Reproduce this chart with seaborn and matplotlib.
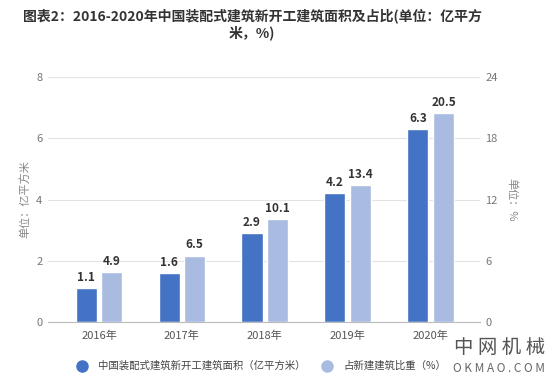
import pandas as pd
import numpy as np
import matplotlib
matplotlib.use("Agg")
import matplotlib.pyplot as plt
from matplotlib.lines import Line2D
import seaborn as sns

# data
years = ["2016年", "2017年", "2018年", "2019年", "2020年"]
area = [1.1, 1.6, 2.9, 4.2, 6.3]        # 亿平方米
share = [4.9, 6.5, 10.1, 13.4, 20.5]    # %
s_area = "中国装配式建筑新开工建筑面积（亿平方米）"
s_share = "占新建建筑比重（%）"

dark = "#4472C4"
light = "#A9BBE0"

sns.set_style("white")
plt.rcParams["font.family"] = ["Noto Sans CJK SC", "DejaVu Sans"]

df = pd.DataFrame({
    "year": years * 2,
    "series": [s_area] * 5 + [s_share] * 5,
    "area": area + [np.nan] * 5,
    "share": [np.nan] * 5 + share,
})

fig = plt.figure(figsize=(5.51, 3.84), dpi=100)
ax = fig.add_axes([48 / 551, 1 - 322 / 384, 432 / 551, 245 / 384])
ax2 = ax.twinx()

pal = {s_area: dark, s_share: light}
sns.barplot(data=df, x="year", y="area", hue="series", hue_order=[s_area, s_share],
            palette=pal, saturation=1, width=0.62, gap=0.18, ax=ax, legend=False, errorbar=None)
sns.barplot(data=df, x="year", y="share", hue="series", hue_order=[s_area, s_share],
            palette=pal, saturation=1, width=0.62, gap=0.18, ax=ax2, legend=False, errorbar=None)

ax.set_xlim(-0.615, 4.595)
ax.set_ylim(0, 8)
ax2.set_ylim(0, 24)
ax.set_yticks([0, 2, 4, 6, 8])
ax2.set_yticks([0, 6, 12, 18, 24])
ax.yaxis.grid(True, color="#E3E3E3", linewidth=0.8)
ax.set_axisbelow(True)

for a in (ax, ax2):
    for sp in a.spines.values():
        sp.set_visible(False)
    a.tick_params(axis="y", length=0, labelsize=8, labelcolor="#777777", pad=4)
ax.spines["bottom"].set_visible(True)
ax.spines["bottom"].set_color("#BBBBBB")
ax.tick_params(axis="x", length=3, color="#BBBBBB", labelsize=8, labelcolor="#555555")
ax.set_xlabel("")
ax.set_ylabel("单位：亿平方米", fontsize=8, color="#888888", labelpad=4)
ax2.set_ylabel("单位：%", fontsize=8, color="#888888", labelpad=6)
ax2.yaxis.label.set_rotation(270)
ax2.yaxis.label.set_va("bottom")

for c in ax.containers:
    ax.bar_label(c, fmt="%.1f", padding=3, fontsize=8.5, fontweight="bold", color="#333333")
for c in ax2.containers:
    ax2.bar_label(c, fmt="%.1f", padding=3, fontsize=8.5, fontweight="bold", color="#333333")

fig.text(252 / 551, 1 - 16 / 384, "图表2：2016-2020年中国装配式建筑新开工建筑面积及占比(单位：亿平方",
         ha="center", va="center", fontsize=10, fontweight="bold", color="#333333")
fig.text(252 / 551, 1 - 33 / 384, "米，%)", ha="center", va="center",
         fontsize=10, fontweight="bold", color="#333333")

handles = [Line2D([], [], marker="o", linestyle="", markersize=8, color=dark),
           Line2D([], [], marker="o", linestyle="", markersize=8, color=light)]
fig.legend(handles, [s_area, s_share], loc="center left", bbox_to_anchor=(62 / 551, 1 - 366 / 384),
           ncol=2, frameon=False, fontsize=7.5, handletextpad=0.6, columnspacing=1.0,
           labelcolor="#444444")

fig.text(545 / 551, 1 - 347 / 384, "中 网 机 械", ha="right", va="center", fontsize=14, color="#555555")
fig.text(545 / 551, 1 - 368 / 384, "O K M A O . C O M", ha="right", va="center", fontsize=8.5, color="#666666")

fig.savefig("out.png", dpi=100)
